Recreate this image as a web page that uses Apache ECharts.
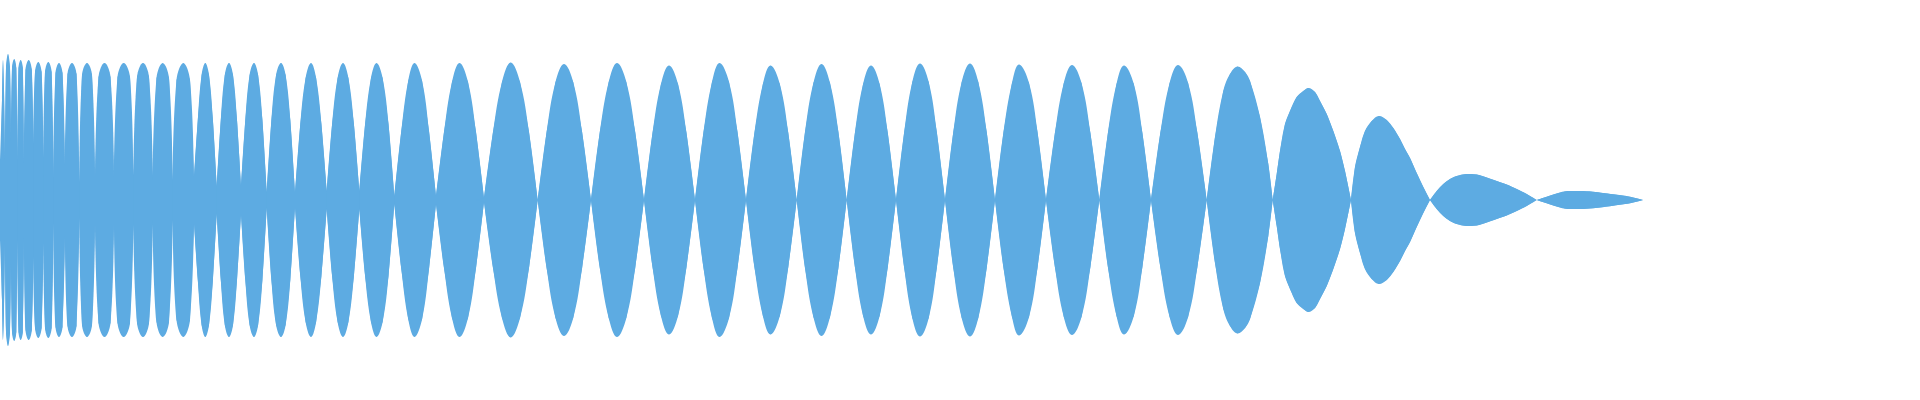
<!DOCTYPE html>
<html>
<head>
<meta charset="utf-8">
<script src="https://cdn.jsdelivr.net/npm/echarts@6/dist/echarts.min.js"></script>
<style>
html,body{margin:0;padding:0;background:#ffffff;}
#chart{width:1920px;height:400px;}
</style>
</head>
<body>
<div id="chart"></div>
<script>
// Envelope of the waveform: time positions (ms) and amplitude
const timeMs = [
  0, 1, 2, 3, 4, 5,
  6, 8, 10, 11,
  12, 14.2, 16.3, 17.3,
  18.5, 20.7, 22.8, 24,
  25.5, 28.7, 31.8, 33.3,
  35, 38.3, 41.6, 43.3,
  45, 48.3, 51.6, 53.3,
  55.5, 59, 62.5, 65,
  67.5, 72, 76.5, 79.3,
  82, 87, 92, 95,
  98.5, 104.5, 110.5, 114,
  117.5, 123.7, 130, 133.3,
  137, 143, 149, 152.7,
  156.5, 162.7, 169, 172.7,
  176.5, 183.3, 190, 194,
  197.8, 201.6, 205.3, 209, 212.9, 216.7,
  220.8, 224.8, 229, 233, 237, 241,
  245.3, 249.6, 254, 258.1, 262.4, 266.7,
  271.4, 276.1, 281, 285.6, 290.3, 295,
  300.3, 305.6, 311, 316.1, 321.4, 326.7,
  332.1, 337.6, 343, 348.4, 353.9, 359.3,
  365.1, 371, 376.5, 382.6, 388.5, 394.3,
  401.3, 408.2, 414.5, 422.1, 429, 436,
  444, 452, 459.5, 468, 476, 484,
  493, 502, 510.7, 520, 529, 537.7,
  546.6, 555.5, 564, 573.2, 582.1, 591,
  599.8, 608.7, 617, 626.3, 635.2, 644,
  652.5, 661, 669, 678, 686.5, 695,
  703.5, 712, 719.5, 729, 737.5, 746,
  754.4, 762.9, 770.5, 779.8, 788.3, 796.7,
  805, 813.4, 821.5, 830, 838.4, 846.7,
  854.9, 863.1, 871, 879.6, 887.8, 896,
  904.2, 912.3, 920, 928.7, 936.8, 945,
  953.3, 961.7, 970, 978.3, 986.7, 995,
  1003.5, 1012, 1019, 1029, 1037.5, 1046,
  1054.9, 1063.8, 1072, 1081.5, 1090.4, 1099.3,
  1107.9, 1116.5, 1124, 1133.8, 1142.4, 1151,
  1160.3, 1169.6, 1178, 1188.1, 1197.4, 1206.7,
  1215, 1223.3, 1230, 1237.7, 1245, 1250, 1260, 1268.3, 1272.7,
  1276.7, 1280, 1285, 1290, 1296.7, 1303.3, 1308.3, 1315, 1320, 1326.7, 1333.3, 1340, 1345, 1351,
  1355, 1360, 1365, 1371.7, 1379, 1386.7, 1393.3, 1400, 1405, 1410, 1416.7, 1423.3, 1430,
  1436.7, 1443.3, 1450, 1456.7, 1466.7, 1476.7, 1486.7, 1496.7, 1506.7, 1516.7, 1526.7, 1536.7,
  1546.7, 1556.7, 1568, 1580, 1593, 1613, 1630, 1643.3
];

const amplitude = [
  40, 40, 100, 140, 110, 40,
  132, 146, 132, 58,
  132, 141, 132, 40,
  132, 140, 132, 37,
  130, 140, 130, 57,
  128, 138, 128, 43,
  128, 138, 128, 23,
  127, 137, 127, 35,
  126, 137, 126, 18,
  125, 137, 125, 20,
  123, 137, 123, 20,
  123, 137, 123, 25,
  123, 137, 123, 24,
  122, 137, 122, 20,
  120, 137, 120, 23,
  80, 125, 137, 125, 80, 14,
  80, 125, 137, 125, 80, 14,
  80, 125, 137, 125, 80, 8,
  80, 125, 137, 125, 80, 7,
  76, 122, 137, 122, 76, 9,
  76, 122, 137, 122, 76, 9,
  76, 122, 137, 122, 76, 4,
  69, 119, 137, 119, 69, 4,
  68, 118, 137, 118, 68, 2,
  68, 118, 137.5, 118, 68, 0,
  68, 118, 136, 118, 68, 0,
  68, 118, 137, 118, 68, 0,
  67, 116, 134.5, 116, 67, 0,
  68, 118, 137, 118, 68, 0,
  67, 116, 134.5, 116, 67, 0,
  68, 117, 136, 117, 68, 0,
  67, 116, 134.5, 116, 67, 0,
  68, 118, 136.5, 118, 68, 0,
  68, 118, 136.5, 118, 68, 0,
  68, 117, 135.5, 117, 68, 0,
  67, 117, 135, 117, 67, 0,
  67, 116, 134.5, 116, 67, 0,
  67, 117, 135, 117, 67, 0,
  63, 109, 126, 133.5, 128, 119, 83, 36, 0,
  26, 49, 76, 89, 103, 109, 112, 108, 99, 86, 69, 49, 29, 0,
  33, 53, 69, 79, 84, 80, 72, 61, 51, 42, 27, 13, 0,
  9, 16, 21, 24, 26, 25.5, 22.5, 19, 15.5, 11, 6, 0,
  3.3, 6.5, 9, 9, 8.3, 5.7, 3.3, 0
];

const fillColor = '#5dabe2';

function areaSeries(points, smooth, z) {
  return {
    type: 'line', data: points, smooth: smooth, symbol: 'none', showSymbol: false,
    silent: true, z: z, lineStyle: {width: 0},
    areaStyle: {color: fillColor, opacity: 1}
  };
}

// base polyline envelope (covers seams between lobes)
const series = [
  areaSeries(timeMs.map((t, i) => [t, amplitude[i]]), false, 1),
  areaSeries(timeMs.map((t, i) => [t, -amplitude[i]]), false, 1)
];

// one smoothed piece per lobe, split at the envelope minima (nodes)
const nodes = [0];
for (let i = 1; i < amplitude.length - 1; i++) {
  if (amplitude[i] <= amplitude[i - 1] && amplitude[i] <= amplitude[i + 1]) nodes.push(i);
}
nodes.push(amplitude.length - 1);
for (let k = 0; k < nodes.length - 1; k++) {
  const idx = [];
  for (let i = nodes[k]; i <= nodes[k + 1]; i++) idx.push(i);
  if (idx.length < 3) continue;
  series.push(areaSeries(idx.map(i => [timeMs[i], amplitude[i]]), 0.4, 2));
  series.push(areaSeries(idx.map(i => [timeMs[i], -amplitude[i]]), 0.4, 2));
}

const chart = echarts.init(document.getElementById('chart'), null, {renderer: 'canvas'});
chart.setOption({
  animation: false,
  backgroundColor: '#ffffff',
  grid: {left: 0, right: 0, top: 0, bottom: 0},
  xAxis: {type: 'value', min: 0, max: 1920, show: false},
  yAxis: {type: 'value', min: -200, max: 200, show: false},
  series: series
});
</script>
</body>
</html>
